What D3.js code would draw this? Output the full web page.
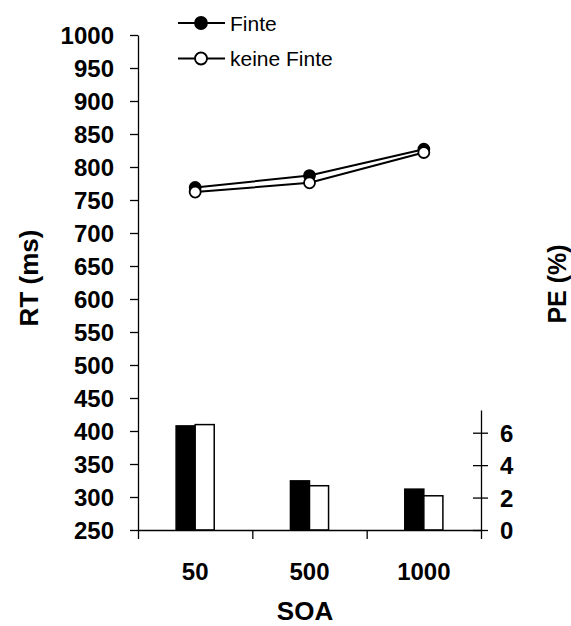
<!DOCTYPE html>
<html>
<head>
<meta charset="utf-8">
<script src="https://cdn.jsdelivr.net/npm/d3@7"></script>
<style>
  body { margin: 0; background: #fff; }
  text { font-family: "Liberation Sans", Arial, sans-serif; fill: #000; }
  .bold { font-weight: bold; }
</style>
</head>
<body>
<div id="chart"></div>
<script>
// data
var soa = ["50", "500", "1000"];
var seriesNames = ["Finte", "keine Finte"];
var seriesFill = ["#000", "#fff"];
var rtFinte = [769, 787, 827];
var rtKeine = [762, 776, 822];
var peFinte = [6.42, 3.03, 2.52];
var peKeine = [6.5, 2.73, 2.11];
var rtTicks = d3.range(250, 1001, 50);
var peTicks = [0, 2, 4, 6];

var svgWidth = 571;
var svgHeight = 626;

var svg = d3.select("#chart")
    .append("svg")
    .attr("width", svgWidth)
    .attr("height", svgHeight);

// plot area in pixels
var plotLeft = 138, plotRight = 481, plotTop = 35, plotBottom = 530;

var x = d3.scaleBand().domain(soa).range([plotLeft, plotRight]);
var xEdges = d3.scaleLinear().domain([0, soa.length]).range([plotLeft, plotRight]);
var xSeries = d3.scaleBand().domain(seriesNames).range([0, x.bandwidth()])
    .paddingInner(0).paddingOuter(2);

var yRT = d3.scaleLinear().domain([250, 1000]).range([plotBottom, plotTop]);
var yPE = d3.scaleLinear().domain([0, 7.4]).range([plotBottom, 410]);

// bars (PE)
var peRows = soa.map((s, i) => [peFinte[i], peKeine[i]]);
var barGroups = svg.append("g").selectAll("g")
    .data(peRows)
    .enter().append("g")
    .attr("transform", (d, i) => `translate(${x(soa[i])},0)`);

barGroups.selectAll("rect")
    .data(d => d.map((v, j) => ({ v: v, j: j })))
    .enter().append("rect")
    .attr("x", d => xSeries(seriesNames[d.j]))
    .attr("y", d => yPE(d.v))
    .attr("width", xSeries.bandwidth())
    .attr("height", d => plotBottom - yPE(d.v))
    .attr("fill", d => seriesFill[d.j])
    .attr("stroke", "#000")
    .attr("stroke-width", 1.5);

// left axis
var leftAxis = d3.axisLeft(yRT).tickValues(rtTicks).tickFormat(d3.format("d"))
    .tickSize(8).tickSizeOuter(0).tickPadding(16);
var gLeft = svg.append("g")
    .attr("transform", `translate(${plotLeft},0)`)
    .call(leftAxis);
gLeft.selectAll("text").attr("class", "bold").style("font-size", "24px")
    .attr("dy", "0.36em");

// bottom axis: ticks on category edges
var bottomAxis = d3.axisBottom(xEdges).tickValues(d3.range(0, soa.length + 1))
    .tickSize(9).tickSizeOuter(0).tickFormat("");
svg.append("g")
    .attr("transform", `translate(0,${plotBottom})`)
    .call(bottomAxis);

// category labels
svg.append("g").selectAll("text")
    .data(soa)
    .enter().append("text")
    .attr("class", "bold")
    .attr("x", d => x(d) + x.bandwidth() / 2)
    .attr("y", 580)
    .attr("text-anchor", "middle")
    .style("font-size", "24px")
    .text(d => d);

// right axis (PE), ticks cross the line
var rightAxis = d3.axisRight(yPE).tickValues(peTicks).tickSize(0).tickSizeOuter(0).tickPadding(19);
var gRight = svg.append("g")
    .attr("transform", `translate(${plotRight},0)`)
    .call(rightAxis);
gRight.selectAll(".tick line").attr("x1", -8).attr("x2", 7);
gRight.selectAll("text").attr("class", "bold").style("font-size", "24px")
    .attr("dy", "0.36em");

svg.selectAll(".domain, .tick line").attr("stroke", "#000").attr("stroke-width", 1.3);

// lines (RT)
var line = d3.line()
    .x((d, i) => x(soa[i]) + x.bandwidth() / 2)
    .y(d => yRT(d));

[rtFinte, rtKeine].forEach(function(vals, k) {
    svg.append("path")
        .datum(vals)
        .attr("d", line)
        .attr("fill", "none")
        .attr("stroke", "#000")
        .attr("stroke-width", 2);
});
[rtFinte, rtKeine].forEach(function(vals, k) {
    svg.append("g").selectAll("circle")
        .data(vals)
        .enter().append("circle")
        .attr("cx", (d, i) => x(soa[i]) + x.bandwidth() / 2)
        .attr("cy", d => yRT(d))
        .attr("r", 5.5)
        .attr("fill", seriesFill[k])
        .attr("stroke", "#000")
        .attr("stroke-width", 1.8);
});

// axis titles
svg.append("text")
    .attr("class", "bold")
    .attr("transform", "translate(38,278) rotate(-90)")
    .attr("text-anchor", "middle")
    .style("font-size", "26px")
    .text("RT (ms)");

svg.append("text")
    .attr("class", "bold")
    .attr("transform", "translate(566,284) rotate(-90)")
    .attr("text-anchor", "middle")
    .style("font-size", "25px")
    .text("PE (%)");

svg.append("text")
    .attr("class", "bold")
    .attr("x", 305)
    .attr("y", 620)
    .attr("text-anchor", "middle")
    .style("font-size", "26px")
    .text("SOA");

// legend
var legend = svg.append("g").selectAll("g")
    .data(seriesNames)
    .enter().append("g")
    .attr("transform", (d, i) => `translate(178,${23 + i * 35.5})`);

legend.append("line")
    .attr("x1", 0).attr("x2", 47)
    .attr("stroke", "#000").attr("stroke-width", 2);
legend.append("circle")
    .attr("cx", 23).attr("r", 6)
    .attr("fill", (d, i) => seriesFill[i])
    .attr("stroke", "#000").attr("stroke-width", 1.8);
legend.append("text")
    .attr("x", 52)
    .attr("dy", "0.36em")
    .style("font-size", "21px")
    .text(d => d);
</script>
</body>
</html>
